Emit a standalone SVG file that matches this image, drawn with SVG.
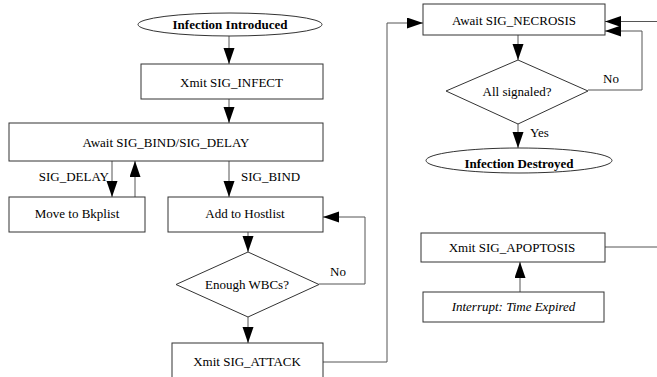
<svg xmlns="http://www.w3.org/2000/svg" width="657" height="377" viewBox="0 0 657 377">
<style>
.n{fill:#fff;stroke:#333;stroke-width:1}
.t{font-family:"Liberation Serif","Times New Roman",serif;font-size:13px;fill:#000}
.c{text-anchor:middle}
.r{text-anchor:end}
.b{font-weight:bold}
.i{font-style:italic}
.e{fill:none;stroke:#555;stroke-width:1}
</style>
<defs>
<marker id="ah" markerUnits="userSpaceOnUse" markerWidth="17" markerHeight="12" refX="16" refY="5.5" orient="auto">
<path d="M0,0 L16,5.5 L0,11 z" fill="#000"/>
</marker>
</defs>
<rect width="657" height="377" fill="#fff"/>
<g id="connectors">
<path class="e" d="M229,36 V64" marker-end="url(#ah)"/>
<path class="e" d="M229,99 V123" marker-end="url(#ah)"/>
<path class="e" d="M112,161 V197" marker-end="url(#ah)"/>
<path class="e" d="M135,197 V161" marker-end="url(#ah)"/>
<path class="e" d="M229,161 V197" marker-end="url(#ah)"/>
<path class="e" d="M248,232 V252" marker-end="url(#ah)"/>
<path class="e" d="M319,284 H365 V217 H323" marker-end="url(#ah)"/>
<path class="e" d="M248,317 V343" marker-end="url(#ah)"/>
<path class="e" d="M323,362 H387 V23 H423" marker-end="url(#ah)"/>
<path class="e" d="M518,35 V60" marker-end="url(#ah)"/>
<path class="e" d="M588,90 H642 V31 H605" marker-end="url(#ah)"/>
<path class="e" d="M518,124 V148" marker-end="url(#ah)"/>
<path class="e" d="M520,292 V262" marker-end="url(#ah)"/>
<path class="e" d="M605,247 H660"/>
<path class="e" d="M660,21.5 H605" marker-end="url(#ah)"/>
<text class="t r" x="109" y="181">SIG_DELAY</text>
<text class="t" x="241" y="181">SIG_BIND</text>
<text class="t" x="330" y="276">No</text>
<text class="t" x="603" y="83">No</text>
<text class="t" x="530" y="137">Yes</text>
</g>
<g id="infection-introduced">
<ellipse class="n" cx="230" cy="24.5" rx="92" ry="11.5"/>
<text class="t c b" x="230" y="29">Infection Introduced</text>
</g>
<g id="xmit-sig-infect">
<rect class="n" x="141" y="64" width="182" height="35"/>
<text class="t c" x="231.5" y="86.5">Xmit SIG_INFECT</text>
</g>
<g id="await-bind-delay">
<rect class="n" x="9" y="123" width="314" height="38"/>
<text class="t c" x="166" y="146.5">Await SIG_BIND/SIG_DELAY</text>
</g>
<g id="move-to-bkplist">
<rect class="n" x="9" y="197" width="136" height="35"/>
<text class="t c" x="77" y="218">Move to Bkplist</text>
</g>
<g id="add-to-hostlist">
<rect class="n" x="168" y="197" width="155" height="35"/>
<text class="t c" x="245" y="218">Add to Hostlist</text>
</g>
<g id="enough-wbcs">
<polygon class="n" points="248,252 319,284.5 248,317 176,284.5"/>
<text class="t c" x="247" y="289">Enough WBCs?</text>
</g>
<g id="xmit-sig-attack">
<rect class="n" x="172" y="343" width="151" height="40"/>
<text class="t c" x="247" y="365.5">Xmit SIG_ATTACK</text>
</g>
<g id="await-sig-necrosis">
<rect class="n" x="423" y="4" width="182" height="31"/>
<text class="t c" x="514" y="25">Await SIG_NECROSIS</text>
</g>
<g id="all-signaled">
<polygon class="n" points="518,60 588,91 518,124 446,91"/>
<text class="t c" x="517" y="95.5">All signaled?</text>
</g>
<g id="infection-destroyed">
<ellipse class="n" cx="519" cy="160.5" rx="93" ry="12.5"/>
<text class="t c b" x="519" y="168">Infection Destroyed</text>
</g>
<g id="xmit-sig-apoptosis">
<rect class="n" x="421" y="233" width="184" height="29"/>
<text class="t c" x="512" y="252">Xmit SIG_APOPTOSIS</text>
</g>
<g id="interrupt-time-expired">
<rect class="n" x="423" y="292" width="181" height="30"/>
<text class="t c i" x="513.5" y="311">Interrupt: Time Expired</text>
</g>
</svg>
